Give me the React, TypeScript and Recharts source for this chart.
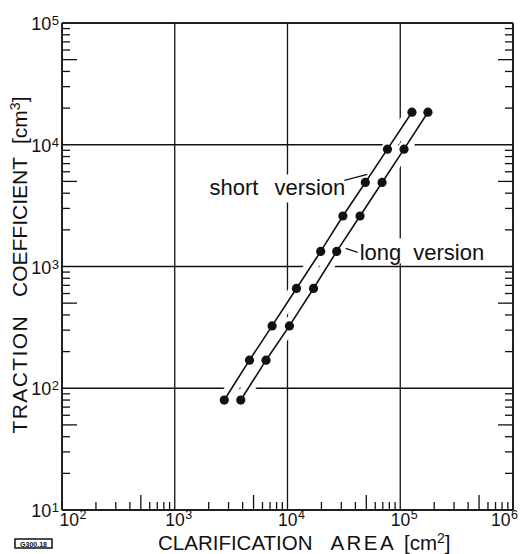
import React from 'react';
import { ComposedChart, Scatter, XAxis, YAxis, CartesianGrid, ReferenceDot } from 'recharts';

const W = 526;
const H = 554;

// Clarification area [cm²] of the two machine versions
const shortArea = [2750, 4600, 7300, 12000, 19700, 31000, 49000, 77000, 127000];
const longArea = [3850, 6450, 10400, 17000, 27300, 44000, 69000, 108000, 176000];
// Traction coefficient [cm³], shared by both versions
const coefficient = [80, 170, 325, 660, 1330, 2600, 4900, 9200, 18500];

// Log axis decades and the minor steps inside each decade
const areaDecades = [1e2, 1e3, 1e4, 1e5, 1e6];
const coefDecades = [1e1, 1e2, 1e3, 1e4, 1e5];
const minorSteps = [2, 3, 4, 5, 6, 7, 8, 9];

const FONT = "'Liberation Sans', Arial, sans-serif";
const INK = '#111';

const buildTicks = (decades: number[]) =>
  decades.flatMap((d, i) => (i < decades.length - 1 ? [d, ...minorSteps.map((m) => m * d)] : [d]));

const areaTicks = buildTicks(areaDecades);
const coefTicks = buildTicks(coefDecades);

const shortData = shortArea.map((x, i) => ({ x, y: coefficient[i] }));
const longData = longArea.map((x, i) => ({ x, y: coefficient[i] }));

const exponentOf = (v: number) => Math.round(Math.log10(v));
const isDecade = (v: number) => Math.abs(Math.log10(v) - exponentOf(v)) < 1e-9;
const minorLength = (v: number) => {
  const step = Math.round(v / Math.pow(10, Math.floor(Math.log10(v) + 1e-9)));
  return step === 5 ? 15 : 8;
};

const BottomTick = (props: any) => {
  const { x, y, payload } = props;
  const v = payload.value as number;
  if (isDecade(v)) {
    // end labels are nudged so they clear the corner and the frame edge
    let left = x - 9.5;
    if (v === areaDecades[0]) left = x - 2.5;
    if (v === areaDecades[areaDecades.length - 1]) left = x - 22;
    return (
      <text x={left} y={y + 16} fontSize={17.5} fontFamily={FONT} fill={INK}>
        10
        <tspan dx={0.5} dy={-7} fontSize={12.5}>
          {exponentOf(v)}
        </tspan>
      </text>
    );
  }
  return <line x1={x} y1={y} x2={x} y2={y - minorLength(v)} stroke={INK} strokeWidth={1.3} />;
};

const TopTick = (props: any) => {
  const { x, y, payload } = props;
  const v = payload.value as number;
  if (isDecade(v)) return <g />;
  return <line x1={x} y1={y} x2={x} y2={y + minorLength(v)} stroke={INK} strokeWidth={1.3} />;
};

const LeftTick = (props: any) => {
  const { x, y, payload } = props;
  const v = payload.value as number;
  if (isDecade(v)) {
    return (
      <text x={x - 3} y={y + 7} textAnchor="end" fontSize={18} fontFamily={FONT} fill={INK}>
        10
        <tspan dx={0.5} dy={-5} fontSize={13}>
          {exponentOf(v)}
        </tspan>
      </text>
    );
  }
  return <line x1={x} y1={y} x2={x + minorLength(v)} y2={y} stroke={INK} strokeWidth={1.3} />;
};

const RightTick = (props: any) => {
  const { x, y, payload } = props;
  const v = payload.value as number;
  if (isDecade(v)) return <g />;
  return <line x1={x} y1={y} x2={x - minorLength(v)} y2={y} stroke={INK} strokeWidth={1.3} />;
};

const Dot = (props: any) => <circle cx={props.cx} cy={props.cy} r={4.6} fill={INK} />;
const NoDot = () => <g />;

// Callout for the short version, pinned to one of its points
const ShortCallout = (props: any) => {
  const { cx, cy } = props;
  return (
    <g>
      <rect x={cx - 163} y={cy - 8} width={145} height={28} fill="#fff" />
      <line x1={cx - 21} y1={cy - 2} x2={cx + 2} y2={cy - 8} stroke={INK} strokeWidth={1.3} />
      <text x={cx - 20} y={cy + 13} textAnchor="end" fontSize={22} fontFamily={FONT} fill={INK}>
        short<tspan dx={16}>version</tspan>
      </text>
    </g>
  );
};

// Callout for the long version
const LongCallout = (props: any) => {
  const { cx, cy } = props;
  return (
    <g>
      <rect x={cx + 22} y={cy - 13} width={130} height={25} fill="#fff" />
      <line x1={cx + 9} y1={cy - 3} x2={cx + 21} y2={cy + 1} stroke={INK} strokeWidth={1.3} />
      <text x={cx + 23} y={cy + 9} fontSize={22} fontFamily={FONT} fill={INK}>
        long<tspan dx={12}>version</tspan>
      </text>
    </g>
  );
};

export default function App() {
  return (
    <div style={{ position: 'absolute', left: 0, top: 0, width: W, height: H, background: '#fff' }}>
      <ComposedChart width={W} height={H} margin={{ top: 0, right: 0, bottom: 0, left: 0 }}>
        <CartesianGrid
          verticalValues={areaDecades}
          horizontalValues={coefDecades}
          stroke={INK}
          strokeWidth={1.3}
          strokeDasharray=""
        />
        <XAxis
          dataKey="x"
          type="number"
          scale="log"
          domain={[1e2, 1e6]}
          allowDataOverflow
          ticks={areaTicks}
          interval={0}
          height={44}
          tickSize={0}
          tickMargin={0}
          tickLine={false}
          axisLine={{ stroke: INK, strokeWidth: 1.6 }}
          tick={<BottomTick />}
        />
        <XAxis
          xAxisId="top"
          orientation="top"
          type="number"
          scale="log"
          domain={[1e2, 1e6]}
          allowDataOverflow
          ticks={areaTicks}
          interval={0}
          height={23}
          tickSize={0}
          tickMargin={0}
          tickLine={false}
          axisLine={{ stroke: INK, strokeWidth: 1.6 }}
          tick={<TopTick />}
        />
        <YAxis
          dataKey="y"
          type="number"
          scale="log"
          domain={[1e1, 1e5]}
          allowDataOverflow
          ticks={coefTicks}
          interval={0}
          width={62}
          tickSize={0}
          tickMargin={0}
          tickLine={false}
          axisLine={{ stroke: INK, strokeWidth: 1.6 }}
          tick={<LeftTick />}
        />
        <YAxis
          yAxisId="right"
          orientation="right"
          type="number"
          scale="log"
          domain={[1e1, 1e5]}
          allowDataOverflow
          ticks={coefTicks}
          interval={0}
          width={13}
          tickSize={0}
          tickMargin={0}
          tickLine={false}
          axisLine={{ stroke: INK, strokeWidth: 1.6 }}
          tick={<RightTick />}
        />
        {/* white bands under the curves break the grid where they cross */}
        <Scatter data={shortData} line={{ stroke: '#fff', strokeWidth: 13 }} lineType="joint" shape={NoDot} isAnimationActive={false} />
        <Scatter data={longData} line={{ stroke: '#fff', strokeWidth: 13 }} lineType="joint" shape={NoDot} isAnimationActive={false} />
        <Scatter data={shortData} line={{ stroke: INK, strokeWidth: 1.6 }} lineType="joint" shape={Dot} isAnimationActive={false} />
        <Scatter data={longData} line={{ stroke: INK, strokeWidth: 1.6 }} lineType="joint" shape={Dot} isAnimationActive={false} />
        <ReferenceDot x={shortArea[6]} y={coefficient[6]} shape={ShortCallout} />
        <ReferenceDot x={longArea[4]} y={coefficient[4]} shape={LongCallout} />
        <text x={158} y={549.5} fontSize={20.5} fontFamily={FONT} fill={INK}>
          CLARIFICATION
          <tspan dx={18} letterSpacing={2.4}>AREA</tspan>
          <tspan dx={8}>[cm</tspan>
          <tspan dy={-7} fontSize={14}>2</tspan>
          <tspan dy={7}>]</tspan>
        </text>
        <text
          transform="translate(27,265) rotate(-90)"
          textAnchor="middle"
          fontSize={21}
          fontFamily={FONT}
          fill={INK}
        >
          <tspan letterSpacing={1.4}>TRACTION</tspan>
          <tspan dx={18}>COEFFICIENT</tspan>
          <tspan dx={13}>[cm</tspan>
          <tspan dy={-7} fontSize={14}>3</tspan>
          <tspan dy={7}>]</tspan>
        </text>
        <rect x={15} y={539} width={37} height={9} fill="#fff" stroke={INK} strokeWidth={1.5} />
        <text x={33.5} y={546.5} textAnchor="middle" fontSize={7} fontWeight="bold" fontFamily={FONT} fill={INK}>
          G300.18
        </text>
      </ComposedChart>
    </div>
  );
}
